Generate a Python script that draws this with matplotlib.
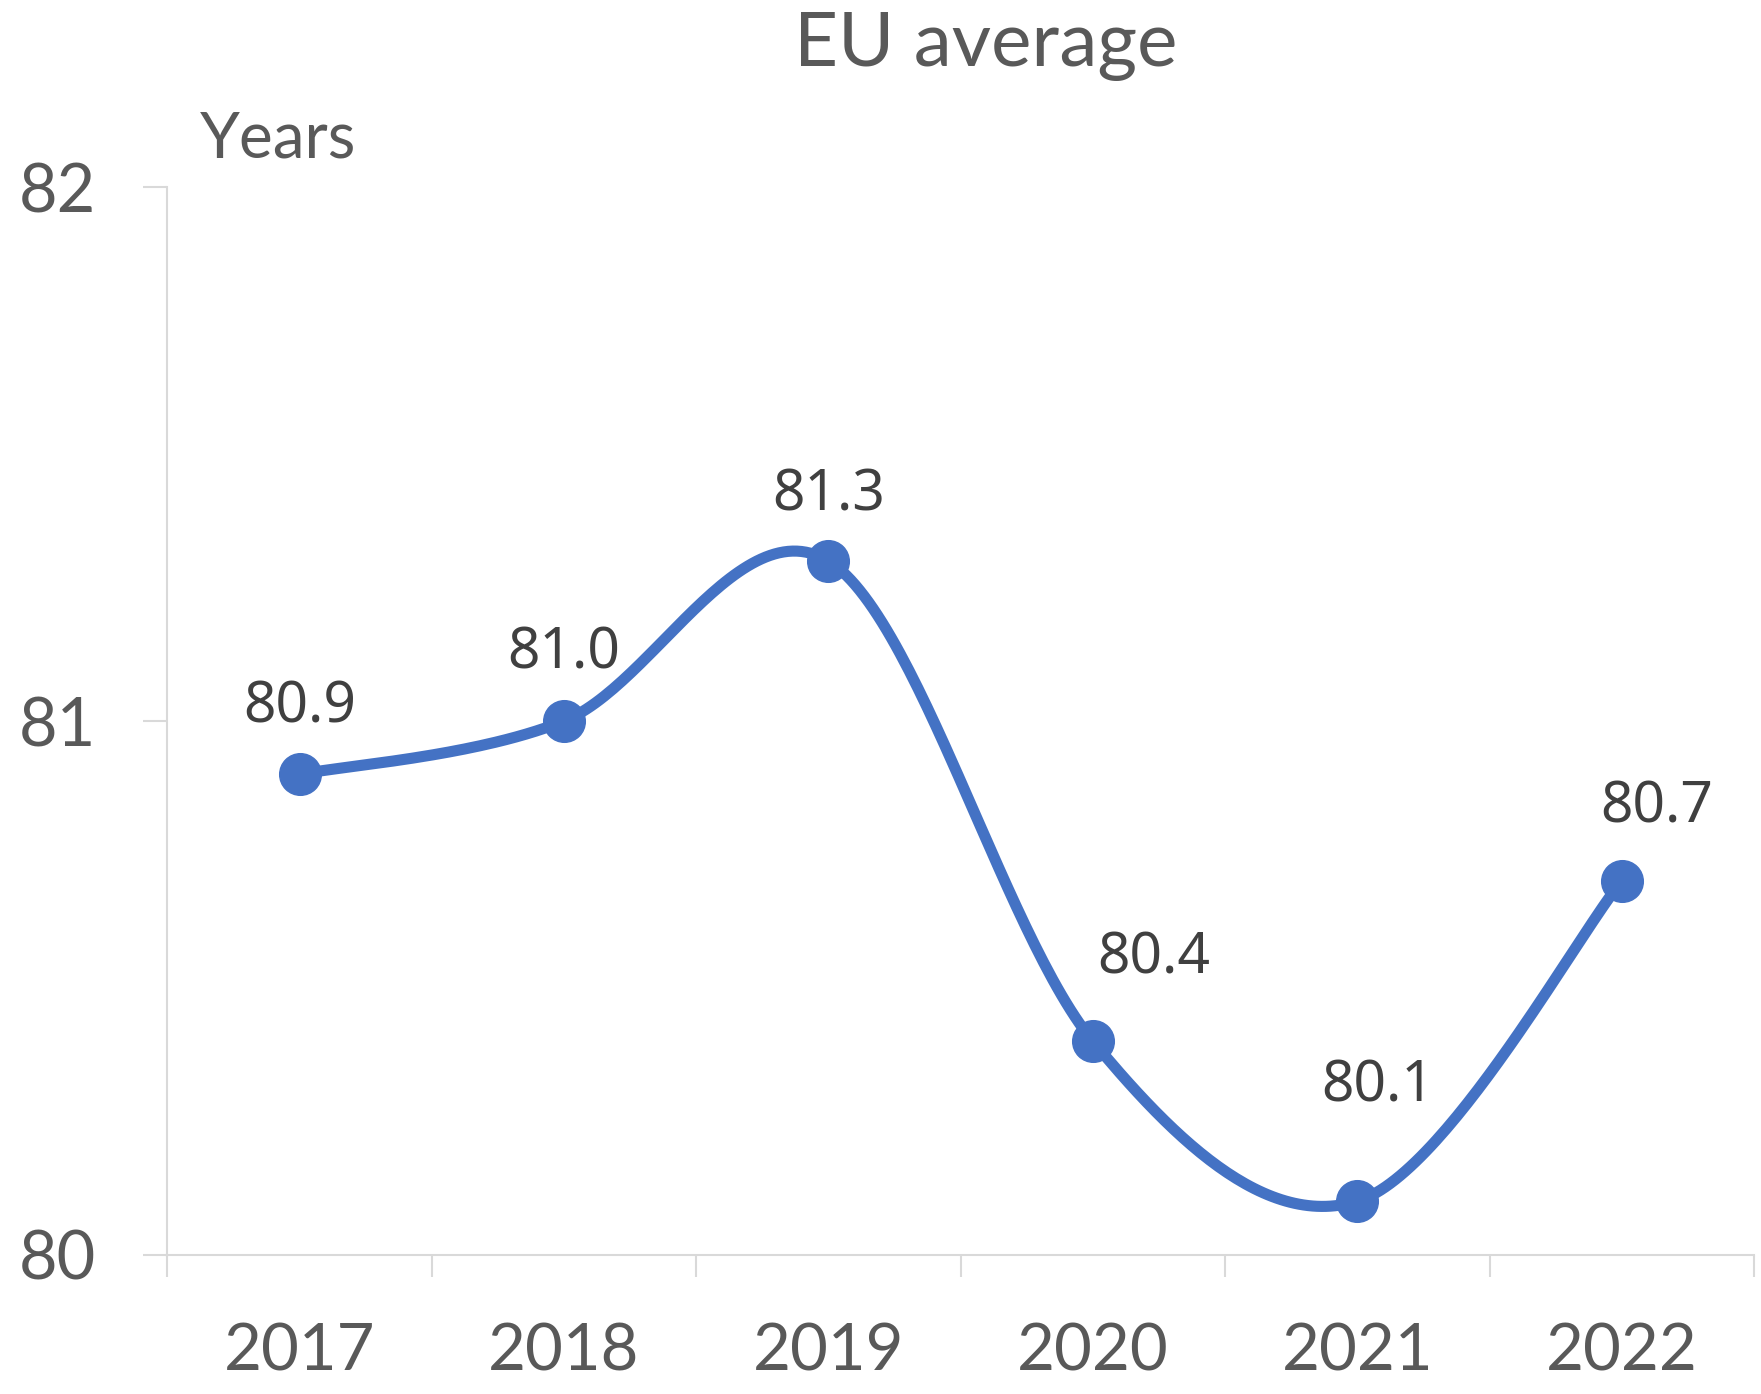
import numpy as np
import matplotlib.pyplot as plt

years = ["2017", "2018", "2019", "2020", "2021", "2022"]
life_exp = [80.9, 81.0, 81.3, 80.4, 80.1, 80.7]
# label offsets in points (dx, dy), as placed in the original
label_offsets = [(0, 48), (0, 48), (0, 47), (44, 59), (15, 82), (25, 53)]

BLUE = "#4472C4"
TEXT = "#595959"
GRID = "#D9D9D9"


def smooth(x, y, n=60):
    # Catmull-Rom style bezier, like spreadsheet "smoothed line"
    x = np.asarray(x, float)
    y = np.asarray(y, float)
    px = np.concatenate([[x[0]], x, [x[-1]]])
    py = np.concatenate([[y[0]], y, [y[-1]]])
    xs, ys = [], []
    t = np.linspace(0, 1, n)
    for i in range(1, len(px) - 2):
        p0 = np.array([px[i], py[i]])
        p3 = np.array([px[i + 1], py[i + 1]])
        p1 = p0 + (np.array([px[i + 1], py[i + 1]]) - np.array([px[i - 1], py[i - 1]])) / 6
        p2 = p3 - (np.array([px[i + 2], py[i + 2]]) - np.array([px[i], py[i]])) / 6
        b = ((1 - t) ** 3)[:, None] * p0 + (3 * (1 - t) ** 2 * t)[:, None] * p1 \
            + (3 * (1 - t) * t ** 2)[:, None] * p2 + (t ** 3)[:, None] * p3
        xs.extend(b[:, 0])
        ys.extend(b[:, 1])
    return np.array(xs), np.array(ys)


plt.rcParams['font.family'] = ['Lato', 'DejaVu Sans']

fig = plt.figure(figsize=(17.61, 13.94), dpi=100)
ax = fig.add_axes([0.095, 0.100, 0.901, 0.7655])

xi = np.arange(len(years))
sx, sy = smooth(xi, life_exp)
ax.plot(sx, sy, color=BLUE, lw=8, solid_capstyle='round', zorder=3)
ax.plot(xi, life_exp, 'o', color=BLUE, ms=30, zorder=4)

for i, v in enumerate(life_exp):
    dx, dy = label_offsets[i]
    ax.annotate(f"{v:.1f}", (i, v), xytext=(dx, dy), textcoords='offset points',
                ha='center', va='center', fontsize=41, color="#404040",
                family=['Noto Sans', 'DejaVu Sans'])

ax.set_xlim(-0.5, len(years) - 0.5)
ax.set_ylim(80, 82)
ax.set_yticks([80, 81, 82])
ax.set_xticks(xi)
ax.set_xticklabels(years)
ax.set_xticks(np.arange(-0.5, len(years)), minor=True)

for s in ['top', 'right']:
    ax.spines[s].set_visible(False)
for s in ['left', 'bottom']:
    ax.spines[s].set_color(GRID)
    ax.spines[s].set_linewidth(1.5)

ax.tick_params(axis='y', length=17, width=1.5, color=GRID, labelsize=48,
               labelcolor=TEXT, pad=34)
ax.tick_params(axis='x', which='major', length=0, labelsize=47,
               labelcolor=TEXT, pad=49)
ax.tick_params(axis='x', which='minor', length=16, width=1.5, color=GRID)

fig.text(0.56, 0.953, "EU average", ha='center', va='baseline',
         fontsize=55, color=TEXT)
fig.text(0.1136, 0.887, "Years", ha='left', va='baseline',
         fontsize=46, color=TEXT)

fig.savefig("out.png", dpi=100)
